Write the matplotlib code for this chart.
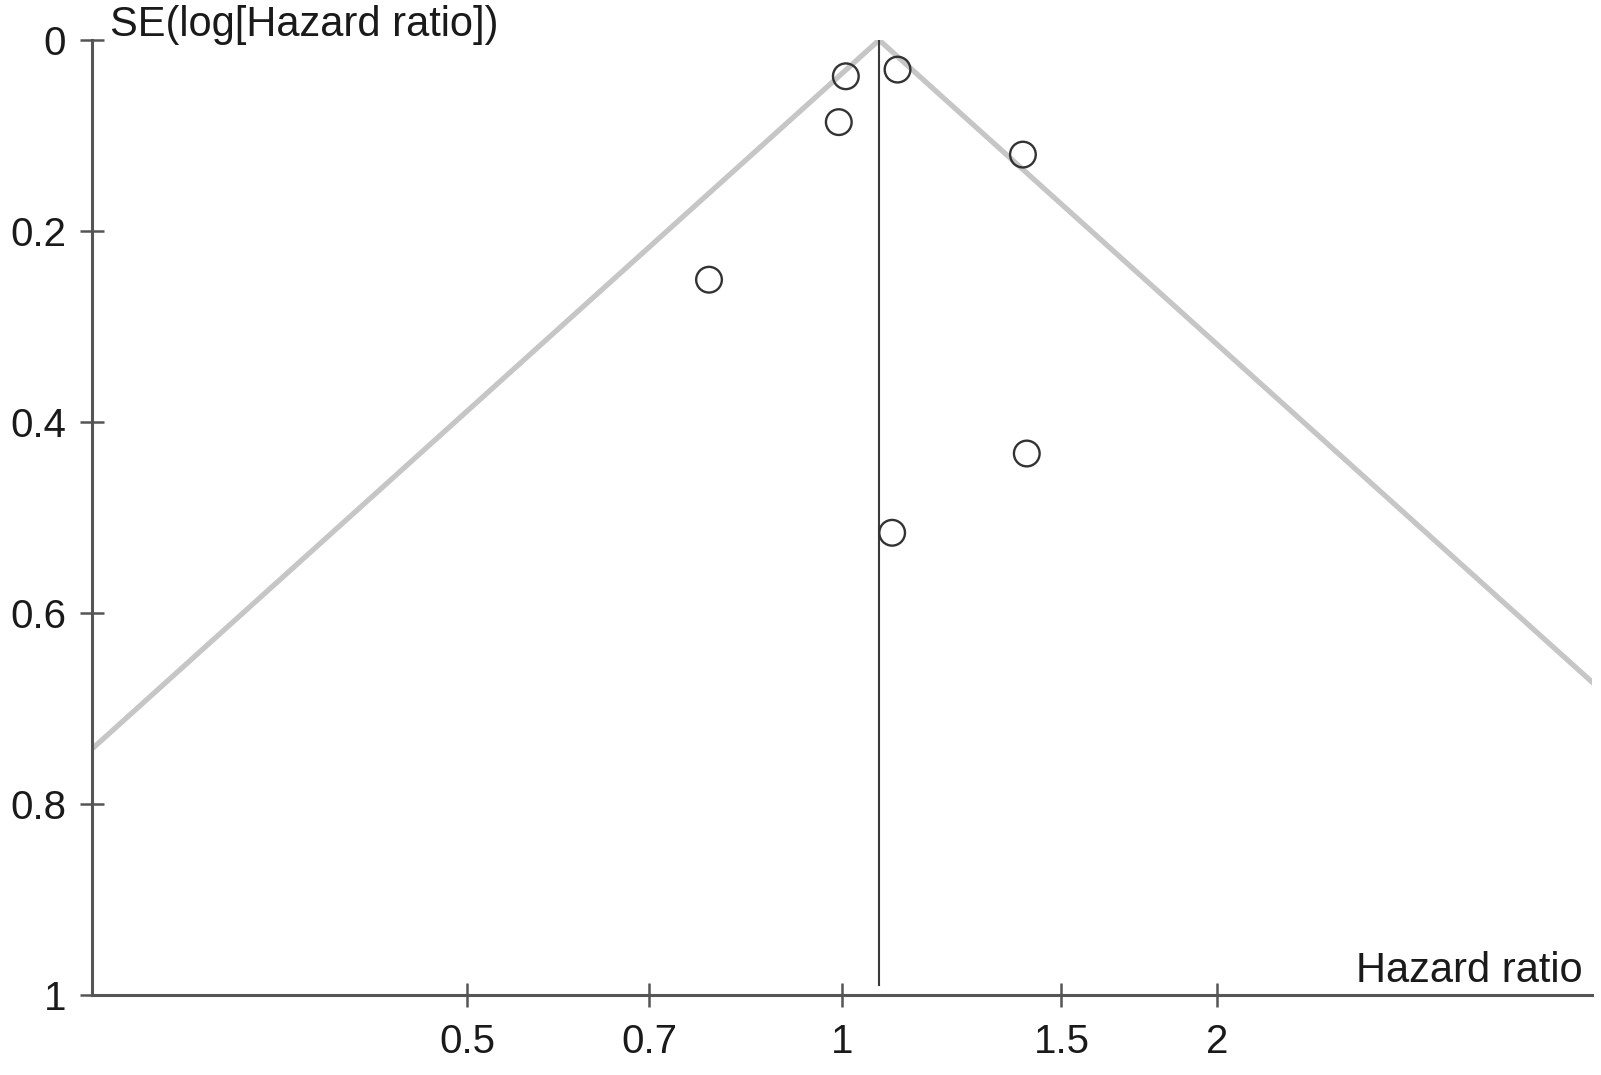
import matplotlib
matplotlib.use("Agg")
import matplotlib.pyplot as plt
import numpy as np
from matplotlib.ticker import FixedLocator, FixedFormatter, NullLocator

# study estimates
hazard_ratio = [1.007, 1.108, 0.994, 1.397, 0.782, 1.407, 1.097]
se_log_hr = [0.038, 0.031, 0.086, 0.120, 0.251, 0.433, 0.516]

pooled_hr = 1.071
z_crit = 1.96

x_ticks = [0.5, 0.7, 1, 1.5, 2]
x_tick_labels = ["0.5", "0.7", "1", "1.5", "2"]
y_ticks = [0, 0.2, 0.4, 0.6, 0.8, 1]
y_tick_labels = ["0", "0.2", "0.4", "0.6", "0.8", "1"]

AXIS_COLOR = "#555555"
TEXT_COLOR = "#1a1a1a"
FONT = "Liberation Sans"

plt.rcParams["font.family"] = [FONT, "DejaVu Sans"]

fig = plt.figure(figsize=(16.01, 10.75), dpi=100)
ax = fig.add_axes([0.0575, 0.0744, 0.9369, 0.8884])

# funnel limits (pseudo 95% CI)
se_grid = np.linspace(0, 1, 200)
ax.plot(pooled_hr * np.exp(-z_crit * se_grid), se_grid, color="#c6c6c6", lw=3.8,
        solid_capstyle="butt", zorder=1)
ax.plot(pooled_hr * np.exp(z_crit * se_grid), se_grid, color="#c6c6c6", lw=3.8,
        solid_capstyle="butt", zorder=1)

# pooled estimate
ax.plot([pooled_hr, pooled_hr], [0, 0.99], color="#3a3a3a", lw=1.5, zorder=2)

ax.scatter(hazard_ratio, se_log_hr, s=18.5 ** 2, facecolors="none",
           edgecolors="#333333", linewidths=1.7, zorder=3)

ax.set_xscale("log")
ax.set_xlim(0.25, 4)
ax.set_ylim(1, 0)

ax.xaxis.set_major_locator(FixedLocator(x_ticks))
ax.xaxis.set_major_formatter(FixedFormatter(x_tick_labels))
ax.xaxis.set_minor_locator(NullLocator())
ax.yaxis.set_major_locator(FixedLocator(y_ticks))
ax.yaxis.set_major_formatter(FixedFormatter(y_tick_labels))

for side in ["top", "right"]:
    ax.spines[side].set_visible(False)
for side in ["left", "bottom"]:
    ax.spines[side].set_color(AXIS_COLOR)
    ax.spines[side].set_linewidth(2.2)

ax.tick_params(axis="both", direction="inout", length=17, width=1.8,
               color=AXIS_COLOR, labelsize=29, labelcolor=TEXT_COLOR)
ax.tick_params(axis="x", pad=12)
ax.tick_params(axis="y", pad=10)
ax.patch.set_visible(False)

fig.text(110 / 1601, 1 - 36 / 1075, "SE(log[Hazard ratio])", fontsize=30,
         color=TEXT_COLOR, ha="left", va="baseline")
fig.text(1583 / 1601, 1 - 982 / 1075, "Hazard ratio", fontsize=30,
         color=TEXT_COLOR, ha="right", va="baseline")

fig.savefig("out.png", dpi=100)
